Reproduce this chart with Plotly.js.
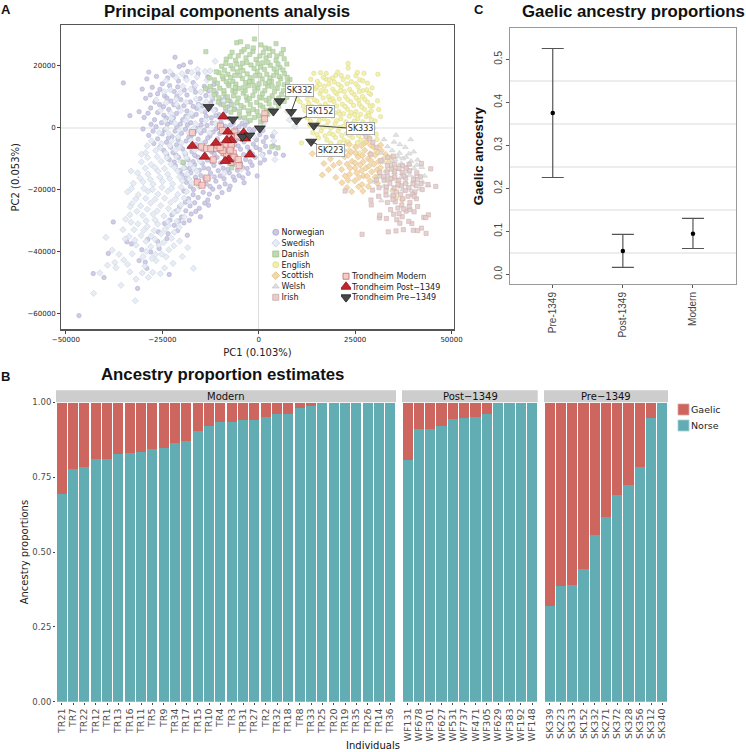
<!DOCTYPE html>
<html><head><meta charset="utf-8">
<script src="https://cdn.plot.ly/plotly-3.0.1.min.js"></script>
<style>html,body{margin:0;padding:0;background:#fff}</style></head>
<body><div id="chart" style="width:746px;height:752px"></div>
<script>
// PCA scores, in thousands of PC units: [PC1, PC2]
const norwegian=[[-35.1,14.5],[-33.4,3.9],[-37.7,-30.5],[-46.6,-60.8],[-42.9,-47.2],[-40.1,-48.5],[-31.4,-52],[-23.2,-47.5],[-39,-40.7],[-34.2,-36.9],[-33,-37.6],[-31,-43],[-29.4,-43.5],[-29,-45.5],[-21.7,22.8],[-17.7,21.2],[-19.5,20.3],[-20.6,19.8],[-24.3,18.2],[-28.5,18],[-29,15.8],[-26.5,16.6],[-22.3,17.1],[-18.4,18.2],[-15.7,17.5],[-13.2,16.5],[-25,14.2],[-27.6,13.1],[-30.2,12.5],[-23.1,13.6],[-20.8,15.1],[-17,14.6],[-14.1,13.4],[-11.6,14],[-26.2,11],[-24.4,10.3],[-21.9,11.7],[-19.3,12.2],[-16.4,11.5],[-13.7,10.4],[-11,11.2],[-8.6,9.8],[-29.3,9.5],[-22.8,8.6],[-20.2,9.1],[-17.7,8.3],[-15.2,9.4],[-12.4,8],[-9.9,7.6],[-7.4,8.6],[-31,5.2],[-28,6.4],[-25.7,7.5],[-23.3,5.9],[-20.9,6.7],[-18.6,5.4],[-16.1,6.3],[-13.9,5.1],[-11.2,5.8],[-8.5,5.4],[-6.2,6.1],[-29.7,3.3],[-27,2.6],[-24.6,4],[-22.1,3.2],[-19.7,2.6],[-17.2,3.7],[-14.8,2.4],[-12.3,3.2],[-9.8,1.9],[-7.5,2.9],[-4.9,3.3],[-2.9,1.8],[-30,-.4],[-26.6,.3],[-23.7,1.1],[-21.2,.2],[-18.5,.9],[-15.8,-.2],[-13.4,.7],[-11,-.4],[-8.6,.4],[-6.1,-.3],[-3.6,.7],[-1.2,-.6],[-28.5,-2.5],[-25,-2],[-22.5,-2.9],[-20,-1.8],[-17.5,-2.7],[-15,-1.7],[-12.6,-2.6],[-10.1,-1.9],[-7.6,-2.8],[-5.2,-1.6],[-2.6,-2.7],[.3,-2.2],[3.6,-2.7],[-27.2,-5.1],[-23.9,-4.7],[-21.3,-5.5],[-18.8,-4.3],[-16.3,-5.4],[-13.8,-4.6],[-11.2,-5.4],[-8.7,-4.4],[-6.3,-5.5],[-3.8,-4.6],[-1.4,-5.3],[1.2,-4.5],[3.8,-5.8],[-24.6,-7.4],[-22.2,-8],[-19.7,-6.9],[-17.3,-7.8],[-14.7,-7],[-12.2,-7.9],[-9.6,-6.9],[-7.2,-7.8],[-4.7,-7],[-2.3,-7.6],[.3,-7.1],[2.8,-7.9],[6.4,-8.9],[4.4,-8.4],[-23.2,-10.3],[-20.8,-9.6],[-18.3,-10.4],[-15.8,-9.5],[-13.3,-10.5],[-10.8,-9.6],[-8.4,-10.5],[-5.9,-9.4],[-3.4,-10.3],[-.9,-9.6],[1.5,-10.4],[-21.6,-12.3],[-19.1,-13],[-16.6,-12],[-14.2,-13],[-11.6,-12.2],[-9.2,-13.1],[-6.7,-12],[-4.2,-12.9],[-1.7,-12.2],[-.4,-15.6],[-20,-15.2],[-17.6,-14.6],[-15,-15.5],[-12.5,-14.7],[-10,-15.6],[-7.6,-14.6],[-5.1,-15.5],[-2.7,-14.8],[-18.7,-17.7],[-16,-17.2],[-13.6,-18.2],[-11.1,-17.3],[-8.7,-18.2],[-6.2,-17],[-3.8,-17.8],[-19.4,-20.5],[-16.9,-20],[-14.4,-20.9],[-11.9,-19.9],[-9.5,-21],[-7.7,-20],[-18.2,-23],[-15.7,-22.6],[-13.2,-23.4],[-10.7,-22.5],[-20.5,-25.6],[-17.8,-25.3],[-15.4,-26.1],[-13,-25.1],[-22.5,-28.2],[-20,-28.9],[-17.5,-27.9],[-15.1,-28.8],[-24.4,-31],[-21.9,-31.6],[-19.4,-30.8],[-26,-33.7],[-23.5,-34.3],[-21,-33.3],[-18.5,-34.8],[-28.8,-36.2],[-26.2,-36.8],[-23.8,-35.9],[-30.3,-39.5],[-28,-40.2],[-25.8,-39.1],
[-23.6,16.1],[-21,13.2],[-18.9,16.3],[-16.7,13],[-25.6,12.4],[-28.1,10.6],[-23.8,9.6],[-21.2,10.2],[-18.6,10.6],[-15.6,7.6],[-13,11.9],[-11.9,9.3],[-10.3,4.2],[-26.9,8.3],[-24.7,6.8],[-22,7.4],[-19.4,7.1],[-17,6.9],[-14.6,7.1],[-12.8,6.2],[-9.6,9],[-7.9,6.8],[-28.7,4.7],[-26.2,4.9],[-23.9,3.1],[-21.3,4.6],[-18.9,3.7],[-16.2,4.3],[-13.6,3.7],[-11.1,3.9],[-8.8,3.4],[-6.6,1.5],[-4.3,1.4],[-27.9,1.1],[-25.2,1.6],[-22.7,1.8],[-20.3,1.2],[-17.6,1.6],[-14.9,.9],[-12.1,1.5],[-10.2,.6],[-7.3,.9],[-5.1,.3],[-2.4,-.5],[-27.4,-1.1],[-24.4,-.7],[-21.7,-1.1],[-19,-.5],[-16.6,-1.3],[-14.1,-.9],[-11.8,-1.4],[-9.2,-.7],[-6.8,-1.6],[-4.4,-2.8],[-1.7,-1.7],[1.1,-.9],[-26.2,-3.6],[-23.4,-3.4],[-20.9,-3.8],[-18.1,-3],[-15.7,-3.7],[-13.2,-3.3],[-10.7,-3.6],[-8.1,-3.2],[-5.7,-3.8],[-3.1,-3.5],[-.6,-3.9],[1.9,-3.1],[-25.6,-6.2],[-22.8,-6.3],[-20.4,-6],[-17.9,-6.3],[-15.3,-6.1],[-12.9,-6.4],[-10.2,-6.1],[-7.9,-6.3],[-5.3,-5.9],[-2.9,-6.3],[-.7,-6.4],[1.8,-6],[-23.8,-8.9],[-21.4,-8.9],[-19,-8.6],[-16.6,-8.9],[-13.9,-8.8],[-11.5,-8.5],[-8.9,-8.4],[-6.4,-8.8],[-3.9,-8.7],[-1.6,-8.5],[1.1,-8.6],[-21.9,-11.1],[-19.5,-11.4],[-17,-11],[-14.6,-11.5],[-12.1,-11.1],[-9.9,-11.4],[-7.2,-11.3],[-4.7,-11.5],[-2.2,-11],[.4,-11.4],[-20.3,-13.8],[-17.9,-13.2],[-15.4,-13.8],[-13,-13.3],[-10.5,-13.9],[-8,-13.5],[-5.5,-13.8],[-3,-13.2],[-18.9,-16.2],[-16.4,-16],[-14,-16.5],[-11.5,-15.9],[-9,-16.5],[-6.6,-15.9],[-4.1,-16.2],[-17.7,-19],[-15.2,-18.9],[-12.6,-19],[-10.2,-19.2],[-7.4,-18.9],[-17,-21.7],[-12.8,-21.5],[-19,-24.1],[-16.6,-24.3],[-14,-24.4],[-21.4,-27],[-18.9,-26.9],[-16.3,-27.1],[-23,-29.9],[-20.7,-30.2],[-18,-30]];
const swedish=[[-39.6,-35.5],[-42.8,-53.6],[-35.7,-51],[-32,-56],[-16.9,-45.5],[-11.3,21.5],[-41.2,-47],[-39.2,-44.5],[-37.3,-43.6],[-35,-42.8],[-34,-44.2],[-37,-45.3],[-31.8,-49],[-30.2,-47],[-27.5,-46.8],[-25.5,-47.2],[-26.6,-43],[-24,-41.8],[-30,-41.7],[-28,-38.5],[-25.9,-38],[-23.3,-39.5],[-31.8,-38],[-33.6,-35.2],[-34.6,-36],[-30.5,-34.9],[-27.9,-35.1],[-25.3,-34.3],[-22.6,-35.8],[-20.5,-36.7],[-18.4,-38.8],[-20.6,-32.2],[-23.4,-31.7],[-26.2,-31.2],[-28.9,-32],[-31.3,-31.1],[-33.4,-28.2],[-34.5,-29.6],[-30.1,-28.4],[-27.4,-28],[-24.6,-28.6],[-22,-27.5],[-19.3,-28.9],[-32.9,-24.6],[-30.6,-25.3],[-28,-24.4],[-25.4,-25.2],[-22.8,-24.2],[-20.2,-25.1],[-18.1,-24],[-34,-20.8],[-31.2,-21.7],[-28.7,-20.6],[-26.1,-21.5],[-23.6,-20.6],[-21,-21.6],[-18.7,-20.7],[-32.5,-18],[-30,-17.5],[-27.4,-18.3],[-24.9,-17.4],[-22.3,-18.2],[-19.8,-17.2],[-17.2,-18.1],[-31.4,-14.6],[-33.1,-14],[-28.7,-15],[-26.1,-14.1],[-23.6,-15],[-21,-14],[-18.5,-15],[-16,-14.1],[-30.4,-11.1],[-27.9,-11.9],[-25.3,-10.9],[-22.8,-11.8],[-20.2,-10.9],[-17.7,-11.8],[-15.2,-10.9],[-29.3,-8.1],[-26.7,-7.4],[-24.1,-8.2],[-21.6,-7.3],[-19.1,-8.2],[-16.6,-7.3],[-30.4,-8.6],[-27.8,-4.3],[-25.2,-5.1],[-22.6,-4.2],[-20.1,-5],[-17.6,-4.1],[-14.8,-5.2],[-25.8,-1.6],[-23.2,-2],[-20.7,-.9],[-18,-1.8],[-15.4,-.8],[-12.7,-1.7],[-24.3,2.2],[-21.7,1.4],[-19,2.3],[-16.4,1.3],[-13.8,2.4],[-11.2,1.4],[-25.5,5.6],[-22.8,4.7],[-20.2,5.5],[-17.5,4.6],[-14.9,5.6],[-26.6,9],[-24,8.1],[-21.4,9.2],[-18.8,8.2],[-16.2,9.3],[-13.6,8.4],[-22.9,12.3],[-20.3,11.4],[-17.6,12.5],[-15,11.6],[-12.3,12.6],[-24,15.3],[-21.4,16.2],[-18.7,15.5],[-16,16.4],[-13.4,15.4],[-23,18.1],[-17.4,17.9],[-13.9,18.2],[-12.6,18.4],[-9,8.6],[-6.5,7.1],[-3.5,2.8],[1.2,1.3],[4.1,-1.6],[3.9,-4.3],[-1.2,-3],[.9,-8.8],[4.2,-10.3],[-4.5,-13.4],[8,2.5],[9.4,.4],[7.5,5.2],[-9,-14.8],[-12.6,-15.8],[-15.5,-19],[-26.8,-41],[-29.5,-44.8],
[-29.2,-36.8],[-26.9,-36.1],[-24.6,-37.1],[-22,-38.2],[-29.1,-40],[-25.2,-40.9],[-27.7,-42.3],[-32.1,-36.4],[-24.3,-32.9],[-27.1,-33.3],[-29.8,-33.2],[-32.3,-33],[-21.9,-33.8],[-33.1,-30.6],[-29.2,-30.1],[-26.9,-29.8],[-23.6,-30.4],[-21.2,-30.3],[-31.6,-27.1],[-28.9,-26.4],[-26.3,-26.9],[-23.4,-26.2],[-20.9,-26.8],[-31.9,-23.1],[-29.3,-22.9],[-26.9,-23.2],[-24.4,-22.8],[-21.6,-23.1],[-19.3,-22.8],[-33,-19.7],[-29.8,-19.6],[-27.5,-20],[-25.1,-19.3],[-22.6,-19.6],[-20.1,-19.3],[-30.8,-16.2],[-28.1,-16.7],[-25.6,-16],[-23.1,-16.5],[-20.5,-15.9],[-18.1,-16.6],[-29.4,-13.1],[-26.9,-12.9],[-24.4,-13.2],[-21.8,-12.8],[-19.4,-13.1],[-16.9,-13],[-28.8,-9.7],[-26.3,-9.4],[-23.8,-9.8],[-21.3,-9.3],[-18.7,-9.7],[-28.9,-5.9],[-25.5,-6.4],[-23,-5.9],[-20.5,-6.3],[-23.9,-.3],[-20.9,-3],[-16.9,-.4],[-22.6,3.1],[-18.4,3.4],[-21.3,7.5],[-15.6,7.2],[-11.6,5.6],[-19.7,13.4],[-24.5,11.6],[-16.4,13.7],[-12.3,10.1],[-19.9,17.5],[-15.9,18.9],[-33.3,-25.6],[-35.2,-33],[-38,-39.6],[-36.2,-41],[-32.8,-40.8],[-33.4,-46.7],[-28.6,-48.4],[-24.4,-45.4],[-22.2,-43.9],[-19.8,-41.7]];
const danish=[[-1.1,28.7],[-5.7,27.5],[-4.7,27.8],[4.5,27.2],[-13.7,24.6],[.6,26.8],[-2.9,26.2],[2.7,25.5],[-6.9,24.4],[-4.4,24.6],[-1.5,24.7],[1.2,24.3],[3.7,24.7],[5.9,23.9],[-8.4,22.2],[-6,21.8],[-3.3,22.6],[-.7,22.1],[1.9,22.6],[4.5,21.8],[6.6,22.3],[-9.6,19.9],[-7.2,20.1],[-4.7,19.5],[-2,20.3],[.5,19.6],[3,20.2],[5.5,19.5],[7.3,20.6],[-10.3,17.8],[-8,17.3],[-5.5,18.1],[-3,17.4],[-.4,18.2],[2.1,17.3],[4.6,18],[6.7,17.5],[-11.5,15.5],[-9.2,15.8],[-6.7,15],[-4.2,15.9],[-1.7,15.1],[.9,15.8],[3.3,15],[5.7,15.8],[8.1,15.6],[-12.6,13.3],[-10.1,12.8],[-7.7,13.6],[-5.2,12.7],[-2.6,13.6],[-.2,12.8],[2.3,13.5],[4.8,12.7],[6.6,13.9],[-11.5,10.7],[-9,11],[-6.5,10.3],[-4,11.2],[-1.5,10.4],[1,11.1],[3.5,10.3],[5.9,10.8],[-10.5,8.3],[-8,8.8],[-5.6,8.1],[-3,8.9],[-.5,8.2],[2,8.9],[4.4,8.1],[6.6,8.5],[-8.6,6.5],[-6.4,5.9],[-3.9,6.6],[-1.4,5.9],[1.1,6.7],[3.3,6],[-5,3.9],[-2.5,4.5],[0,3.8],[2.4,4.4],[-2.2,2.4],[.6,1.9],[-7.9,14.2],[-3.4,14.6],[1.7,14.3],[-.9,16.8],[-6.2,16.9],[3.9,16.9],[-4.2,20.9],[1.1,21],[-6.7,12],[.8,9.6],[-3.2,10],[5,-6.5],[3.4,-6.2],[-19.6,-11.2],[-7,-13],
[-5.3,23.3],[-2.3,23.7],[.3,23.2],[2.8,23.4],[-7.4,23],[-6.7,19],[-4.1,18.5],[-1.2,19.2],[1.5,18.9],[4,19],[6.3,18.7],[-8.9,18.6],[-9.4,16.7],[-7.3,16.2],[-4.9,16.9],[-2.2,16.2],[.3,17],[2.9,16.1],[5.3,16.6],[7.4,16.3],[-10.7,14.4],[-8.4,14.9],[-5.9,14.1],[-2.4,14.9],[.1,14.2],[2.7,14.8],[5.1,14.2],[7.5,14.6],[-11.6,12],[-9,12],[-6.1,11.6],[-3.5,12],[-1,11.9],[1.6,12],[4.1,11.7],[6.4,12],[-10.3,9.7],[-8.1,10],[-5.3,9.6],[-2.4,9.4],[.2,9.9],[2.7,9.5],[5.2,9.6],[7.3,9.8],[-9.1,7.4],[-7,7.5],[-4.6,7.2],[-2.2,7.5],[.4,7.3],[2.7,7.7],[5.2,7],[-7.2,5],[-5,5.4],[-2.7,5.5],[-.4,5.2],[2,5.5],[-3.6,3.2],[-1.1,3.3],[1.5,3.1],[-6.1,13],[-3.9,13],[-1.2,13.6],[3.5,13.4],[-8.5,20.8],[-5.7,20.6],[-3.1,21.1],[-.2,20.8],[2.4,21.1],[5,20.6],[-1.4,25.8],[-3.8,25.3],[1.7,25.8],[4.7,23.2],[-12.8,16.1],[-11,18.1],[6.4,25.3],[8.3,12.5],[-13.8,12.6]];
const english=[[23.2,20.8],[30.9,17.3],[14.3,17.6],[23.2,19.3],[16,17.8],[17.5,17.6],[20,17],[27.3,17.6],[25.2,16.8],[13.5,15.7],[15.2,15],[17.4,15.7],[19.6,14.8],[21.9,15.6],[24,14.9],[26.2,15.5],[28.2,14.4],[12.8,13.2],[14.8,12.6],[17,13.4],[19.2,12.5],[21.4,13.3],[23.6,12.4],[25.8,13.2],[28,12.3],[11.5,10.7],[13.7,10.2],[15.9,11],[18.1,10.1],[20.3,10.9],[22.5,10],[24.7,10.8],[26.9,10.1],[29,10.8],[10.7,8.4],[13,7.9],[15.1,8.6],[17.3,7.7],[19.5,8.5],[21.7,7.6],[23.9,8.4],[26.1,7.6],[28.2,8.3],[12,5.6],[14.2,6.2],[16.4,5.3],[18.6,6],[20.8,5.2],[23,6],[25.2,5.2],[27.4,6],[29.2,5.4],[31.6,3.6],[12.5,3.2],[14.7,3.8],[16.9,3],[19.1,3.7],[21.3,2.9],[23.5,3.7],[25.7,2.9],[27.9,3.6],[30.2,2.2],[13.2,.9],[15.4,1.4],[17.6,.6],[19.8,1.3],[22,.5],[24.2,1.3],[26.4,.5],[28.6,1.2],[14,-1.6],[16.2,-1],[18.4,-1.8],[20.6,-1.1],[22.8,-1.9],[25,-1.1],[27.2,-1.9],[29.4,-1.1],[15.5,-3.3],[17.7,-4],[19.9,-3.2],[22.1,-4],[24.3,-3.2],[26.5,-4],[28.7,-3.2],[30.7,-3.8],[11.1,-4.9],[20.5,-5.9],[22.7,-5.3],[25,-6.1],[27.2,-5.3],[29.4,-6],[30.4,-7.3],[26.1,-8.2],[23.4,-7.4],[17.8,4.3],[21,4.4],[24.9,4.2],[19.1,9.4],[22.2,11.7],[16.2,12],[27,12],[18.2,14.1],[23.1,16.4],[20.5,18],[25.9,8.9],[29.5,7.2],[13.9,5.1],[10.3,12],[8.4,11.4],[10,9.3],[28.4,4.7],
[15.8,14],[18.3,15.6],[20.7,14],[22.9,14.2],[25.2,14.2],[13.6,11.7],[15.1,13.3],[17.4,11.8],[19.8,11.5],[21.2,12],[24.1,11.4],[26.1,11.7],[28.6,11.2],[12.6,9.3],[14.4,9],[16.7,9.6],[18.5,8.9],[20.9,9.3],[23.1,9.1],[25.3,9.6],[27.5,9.2],[11.6,7],[13.8,6.9],[15.9,7.1],[18.1,6.8],[20.2,7],[22.4,6.9],[24.6,7.2],[26.7,6.7],[28.9,7],[12.9,4.4],[15.2,4.9],[17.2,5.1],[19.7,4.8],[22,4.5],[23.9,4.9],[26.4,4.3],[28.6,3.9],[13.4,2.2],[15.7,2.4],[18,2],[20.2,2.3],[22.6,1.9],[24.8,2.2],[27,1.9],[29.2,2.7],[14.3,.1],[16.6,.2],[18.7,-.1],[21,.1],[23.2,-.2],[25.3,.1],[27.5,-.3],[29.8,-.1],[15.1,-2.2],[17.2,-2.6],[19.3,-2.2],[21.5,-2.5],[23.6,-2.5],[25.9,-2.6],[28.1,-2.5],[30.5,-2.1],[18.7,-5],[21,-4.7],[23.2,-4.6],[25.6,-4.8],[27.9,-4.6],[19.2,16.1],[21.4,16.9],[16.8,16.3],[25.6,17.9],[27,15.2],[29.4,12.9],[30.8,8.7],[31.1,5.9]];
const scottish=[[13.9,-8.4],[16.5,-15.3],[16.9,-11.6],[18.6,-10.1],[19.4,-12.2],[18.1,-13.6],[20.9,-11.4],[22.3,-9.4],[21.5,-13.5],[22.1,-7.4],[24,-7.8],[24.2,-10.9],[23.7,-13.1],[22.4,-15.6],[21.6,-17.8],[22.9,-19.4],[25.8,-9.5],[26.3,-12],[25.4,-14.6],[24.9,-17.2],[24.1,-20.7],[27.5,-7.3],[28.4,-10],[27.8,-13],[27.2,-15.6],[26.8,-18.4],[27,-20.5],[29.8,-6.2],[30.2,-8.9],[29.9,-11.8],[29.3,-14.3],[28.9,-17.2],[31.8,-7.4],[32.2,-10.3],[31.6,-12.9],[31.1,-15.6],[30.8,-18],[33.7,-11.1],[33.2,-14],[33,-16.7],[34.7,-13],[35,-16.2],[34.8,-20.4],[35.6,-22.7],[37.2,-23.3],[36.3,-18.7],[26.6,-5.8],[23.5,-5.4],[20,-16.1],
[23.2,-8.9],[25.1,-8.2],[26.9,-9],[28.9,-8.4],[30.9,-8],[22.9,-11.8],[25,-11.4],[27.1,-11],[29,-10.5],[31.1,-10.9],[25,-13],[26.7,-13.9],[28.6,-12.4],[30.7,-13.6],[23.6,-15.1],[26,-16.1],[28.1,-15.7],[30.2,-16],[25.9,-19.1],[28.4,-19],[23.2,-17],[31.6,-5.6],[29,-5.6],[27.8,-4.6],[25.2,-6.4],[32.9,-8.6],[34.5,-9.5]];
const welsh=[[35.6,-2.4],[39.4,-3.8],[32.5,-3.8],[44,-18.7],[35.1,-4.6],[36.6,-5.4],[33.4,-6.1],[38,-6.3],[34.6,-7.4],[36.5,-8.2],[39,-8.4],[40.2,-7.8],[31.8,-8.2],[33.4,-9.5],[35.4,-10.4],[37.4,-10],[39.5,-10.8],[41.2,-10.4],[32.2,-11.2],[34.3,-12.3],[36.3,-12.2],[38.3,-12.9],[40.3,-13.2],[42.3,-12.8],[33,-14],[35.2,-14.6],[37.2,-14.9],[39.2,-15.3],[41.2,-15.2],[43,-15.6],[31.2,-15.9],[33.7,-16.9],[36,-17.2],[38.2,-17.8],[40.2,-17.4],[42.5,-17.6],[30,-17.5],[32.5,-18.9],[35,-19.6],[37.3,-20.1],[39.6,-20.3],[31.8,-23.6],[34.4,-21.9],[36.2,-9.4],[38.2,-9.5],[34.8,-11],[37,-11.6],[39.1,-12],[41,-12.1],[35.9,-13.5],[38.6,-14.2],[40.4,-16.1],[36.9,-16.1],[33.6,-15.6],[41.8,-19.8]];
const irish=[[26.8,-34.5],[44.6,-13.3],[45.9,-19],[33.6,-33.7],[43.4,-34.2],[42.2,-32.5],[41.2,-33.3],[35.6,-33.4],[37.5,-33],[40.1,-33.2],[42.8,-29],[44,-28.2],[43.3,-29.1],[39.7,-31],[38.9,-30.3],[31.3,-29.2],[31.4,-28.3],[33.1,-29.4],[35,-28],[35.8,-29.8],[36.6,-30.9],[37.2,-28.8],[38.2,-27],[39.2,-26.5],[41.2,-25.5],[34.2,-26.5],[36.1,-26],[29.1,-23.4],[29.2,-25],[33.4,-24.2],[35.4,-24],[37.1,-25],[39.2,-24.2],[40.9,-23],[31.1,-22.2],[33,-21.8],[34.9,-22.1],[36.8,-21.6],[38.7,-22.2],[40.5,-20.8],[42.4,-20],[43.9,-18.4],[22.4,-20.5],[29.5,-20.2],[31.2,-19.4],[33.1,-19.2],[35.1,-19.5],[37,-18.8],[38.9,-19.4],[40.8,-18.8],[42.1,-18.1],[30.5,-16.9],[32.5,-17],[34.3,-16.4],[36.3,-17.1],[38.1,-16.3],[40.1,-16.7],[41.9,-15.9],[31.4,-14.5],[33.3,-14.6],[35.2,-14.1],[37.2,-14.5],[39.1,-13.9],[41,-14.6],[42.2,-11.6],[33.4,-12.3],[35.2,-11.8],[37.3,-12.3],[39,-11.8],[31.7,-10.6],[33.5,-9.6],[35,-9.2],[29.6,-4.7],[27.8,-2.8],[28.8,-3.6],[29.1,-8.6],[30.6,-6.4],
[35.3,-15.9],[37.7,-15.6],[34,-18],[36.1,-18.3],[38,-18.1],[40,-18.2],[33,-20.4],[35.7,-20.8],[38,-20.3],[39.9,-21.6],[37.3,-23],[34.8,-23.2],[37.6,-26.3],[40.3,-27.2],[36.4,-27.8],[41.2,-16.8],[32.4,-15.8],[36.4,-13.2],[38.2,-13.1],[34.4,-13.4],[40.3,-22.2],[39,-25.5]];
const modernPts=[[-17.2,-1.6],[1.6,4.5],[1.5,2.9],[-9.9,.5],[-9.4,-.9],[-6.2,-1.4],[-5.5,-2.7],[-7.2,-2.9],[-14.8,-6.2],[-13.5,-6.7],[-12.4,-6.8],[-10.9,-6.7],[-8.7,-5.8],[-7.1,-5.8],[-9.7,-7],[-9,-8.1],[-6.6,-8.2],[-6.4,-9.6],[-5.3,-10.3],[-11.8,-10.4],[-5.1,-12.3],[-7.2,-11.2],[-13.4,-16.3],[-15.9,-17.6],[-14.7,-18.6],[-8.3,-8.9],[-9.3,-7.4],[-10.6,-5.6],[-7.4,-7.3],[-10,-6.4]];
const postPts=[[-9.2,3.6],[-8,-1.3],[-3.9,-1.6],[-3.5,-3.5],[-7.1,-4],[-8.3,-4.1],[-11.1,-4.9],[-17.2,-5.9],[-14,-9.4],[-2.3,-8.7],[-7.8,-10.3],[-8.7,-10.8]];
const prePts=[[-13,6.7],[-6.7,2.7],[5.4,8.6],[3.8,5.3],[8.4,5.1],[9.8,2.4],[.3,-.2],[14.3,.7],[13.6,-4.5],[-4.2,-2.9],[-2.4,-2.5]];
const pcaLabels=[["SK332",8.4,5.1,10.5,12.2],["SK152",9.8,2.4,16.1,5.3],["SK333",14.3,.7,26.4,-.4],["SK223",13.6,-4.5,18.7,-7.3]];

// Panel C
const periods=["Pre-1349","Post-1349","Modern"];
const gaelicMean=[0.375,0.054,0.094];
const gaelicUpper=[0.525,0.093,0.130];
const gaelicLower=[0.225,0.016,0.060];
const boundTicks=[0.05,0.15,0.25,0.35,0.45];

// Panel B
const modernIds=["TR21","TR7","TR22","TR12","TR1","TR13","TR16","TR11","TR5","TR9","TR34","TR17","TR15","TR10","TR4","TR3","TR31","TR27","TR2","TR32","TR18","TR8","TR33","TR25","TR20","TR19","TR35","TR26","TR14","TR36"];
const modernNorse=[.695,.778,.786,.811,.811,.827,.831,.833,.845,.847,.865,.871,.905,.921,.934,.935,.941,.943,.953,.961,.962,.980,.988,1,1,1,1,1,1,1];
const modernGaelic=[.305,.222,.214,.189,.189,.173,.169,.167,.155,.153,.135,.129,.095,.079,.066,.065,.059,.057,.047,.039,.038,.020,.012,0,0,0,0,0,0,0];
const postIds=["WF131","WF678","WF301","WF627","WF531","WF737","WF471","WF305","WF629","WF383","WF192","WF148"];
const postNorse=[.807,.911,.913,.922,.944,.948,.952,.960,1,1,1,1];
const postGaelic=[.193,.089,.087,.078,.056,.052,.048,.040,0,0,0,0];
const preIds=["SK339","SK223","SK333","SK152","SK332","SK271","SK372","SK328","SK356","SK312","SK340"];
const preNorse=[.321,.386,.391,.444,.558,.619,.690,.723,.786,.948,1];
const preGaelic=[.679,.614,.609,.556,.442,.381,.310,.277,.214,.052,0];

const W=746,H=752;
const dx=(a,b)=>[a/W,b/W], dy=(top,bot)=>[1-bot/H,1-top/H];
const DV="DejaVu Sans", LS="Liberation Sans";
const RED="#CC665F", TEAL="#62ADB4";
const thou=a=>a.map(v=>v*1000);
const xs=p=>thou(p.map(d=>d[0])), ys=p=>thou(p.map(d=>d[1]));

const popStyles=[
 ["Norwegian",norwegian,"circle","#CBC8E4","#A9A6CF",4.4],
 ["Swedish",swedish,"diamond","#E6ECF4","#C1CDDD",4.8],
 ["Danish",danish,"square","#BEDAAD","#A2C292",4.2],
 ["English",english,"circle","#F2F0A8","#DBD985",4.4],
 ["Scottish",scottish,"diamond","#F3D8A8","#E0BC84",4.8],
 ["Welsh",welsh,"triangle-up","#E0E0E0","#C8C8C8",5],
 ["Irish",irish,"square","#E5CDCD","#CAACAC",4.2]];
const focalStyles=[
 ["Trondheim Modern",modernPts,"square","#F6CBC6","#BD6A68",6.2],
 ["Trondheim Post\u22121349",postPts,"triangle-up","#C4242B","#8A1B1E",9.5],
 ["Trondheim Pre\u22121349",prePts,"triangle-down","#484848","#222222",9.5]];
const scat=s=>({type:"scatter",mode:"markers",name:s[0],x:xs(s[1]),y:ys(s[1]),xaxis:"x",yaxis:"y",showlegend:false,
  marker:{symbol:s[2],color:s[3],size:s[5],opacity:s[5]>9?1:0.9,line:{color:s[4],width:s[5]>9?0.8:0.6}}});
const data=[...popStyles.map(scat),...focalStyles.map(scat)];

data.push({type:"scatter",mode:"markers",x:periods,y:gaelicMean,xaxis:"x2",yaxis:"y2",showlegend:false,name:"Gaelic ancestry",
  marker:{color:"#000",size:4.5},
  error_y:{type:"data",symmetric:false,array:gaelicUpper.map((v,i)=>v-gaelicMean[i]),arrayminus:gaelicMean.map((v,i)=>v-gaelicLower[i]),color:"#555",thickness:1.2,width:11}});

const bars=(ids,norse,gaelic,ax,ay)=>[
 {type:"bar",name:"Norse",x:ids,y:norse,xaxis:ax,yaxis:ay,marker:{color:TEAL},showlegend:false},
 {type:"bar",name:"Gaelic",x:ids,y:gaelic,xaxis:ax,yaxis:ay,marker:{color:RED},showlegend:false}];
data.push(...bars(modernIds,modernNorse,modernGaelic,"x3","y3"),...bars(postIds,postNorse,postGaelic,"x4","y4"),...bars(preIds,preNorse,preGaelic,"x5","y5"));

// legend keys, on their own small category axes
const keyTrace=(list,ax,ay)=>list.map(s=>({type:"scatter",mode:"markers",name:s[0],x:["key"],y:[s[0]],xaxis:ax,yaxis:ay,showlegend:false,
   marker:{symbol:s[2],color:s[3],size:s[5]>9?10:6,line:{color:s[4],width:0.8}}}));
data.push(...keyTrace(popStyles,"x6","y6"),...keyTrace(focalStyles,"x7","y7"));
data.push(...keyTrace([["Gaelic",0,"square",RED,"#E3A6A1",11],["Norse",0,"square",TEAL,"#A5D0D4",11]],"x8","y8").map(t=>{t.marker.size=11;return t;}));

const hiddenX=(dom,y)=>({domain:dom,anchor:y,visible:false,type:"category",range:[-.5,.5],fixedrange:true});
const keyY=(dom,x,names,size)=>({domain:dom,anchor:x,side:"right",type:"category",categoryorder:"array",categoryarray:names,autorange:false,range:[names.length-.5,-.5],
  showline:false,showgrid:false,zeroline:false,ticks:"",ticklen:0,tickfont:{family:DV,size:size,color:"#222"},fixedrange:true});
const barX=(dom,y,ids)=>({domain:dom,anchor:y,type:"category",categoryorder:"array",categoryarray:ids,range:[-.5,ids.length-.5],tickangle:-90,
  ticks:"outside",ticklen:2,tickcolor:"#444",tickfont:{family:DV,size:9.5,color:"#4d4d4d"},showgrid:false,zeroline:false,showline:false,fixedrange:true});
const barY=(x,vis)=>({domain:dy(402.5,701.7),anchor:x,range:[0,1],showgrid:false,zeroline:false,showline:false,fixedrange:true,
  tickvals:vis?[0,.25,.5,.75,1]:[],ticktext:vis?["0.00","0.25","0.50","0.75","1.00"]:[],ticks:vis?"outside":"",ticklen:2,tickcolor:"#444",
  tickfont:{family:DV,size:8.5,color:"#4d4d4d"}});

const txt=(text,xp,yp,size,family,bold,extra)=>Object.assign({text:bold?"<b>"+text+"</b>":text,xref:"paper",yref:"paper",x:xp/W,y:1-yp/H,showarrow:false,xanchor:"center",yanchor:"middle",
  font:{family,size,color:"#111"}},extra||{});

const annotations=[
 txt("Principal components analysis",227,11,16.8,LS,true),
 txt("Gaelic ancestry proportions",633,11,16.8,LS,true),
 txt("Ancestry proportion estimates",223,374,16.8,LS,true),
 txt("A",5.5,9,13,LS,true),txt("B",5.5,376,13,LS,true),txt("C",479,9,13,LS,true),
 txt("Modern",226,396.5,10,DV,false),txt("Post\u22121349",470,396.5,10,DV,false),txt("Pre\u22121349",606,396.5,10,DV,false),
 txt("Individuals",373,745,10,DV,false),
 ...pcaLabels.map(l=>({text:l[0],xref:"x",yref:"y",axref:"x",ayref:"y",x:l[1]*1000,y:l[2]*1000,ax:l[3]*1000,ay:l[4]*1000,showarrow:true,arrowhead:0,arrowwidth:0.9,arrowcolor:"#333",
   standoff:0,startstandoff:0,bgcolor:"#fff",bordercolor:"#999",borderwidth:0.8,borderpad:1,font:{family:DV,size:8,color:"#333"}}))
];
const strip=(a,b)=>({type:"rect",xref:"paper",yref:"paper",x0:a/W,x1:b/W,y0:1-402.3/H,y1:1-390.3/H,fillcolor:"#CDCDCD",line:{width:0},layer:"below"});

const layout={width:W,height:H,margin:{l:0,r:0,t:0,b:0},paper_bgcolor:"#fff",plot_bgcolor:"#fff",showlegend:false,bargap:0.09,barmode:"stack",hovermode:false,
 font:{family:DV,color:"#333"},
 shapes:[strip(56,396),strip(402,537.7),strip(544,668)],
 annotations,
 xaxis:{domain:dx(61.3,453.7),anchor:"y",range:[-51180,50560],tickvals:[-50000,-25000,0,25000,50000],ticks:"outside",ticklen:3,tickcolor:"#444",tickfont:{family:DV,size:7,color:"#222"},
   title:{text:"PC1 (0.103%)",font:{family:DV,size:10,color:"#222"},standoff:6},showgrid:false,zeroline:true,zerolinecolor:"#DDD",zerolinewidth:1,showline:true,mirror:true,linecolor:"#555",linewidth:1.3,tickformat:"d",layer:"below traces",fixedrange:true},
 yaxis:{domain:dy(25.3,329.3),anchor:"x",range:[-65240,33140],tickvals:[-60000,-40000,-20000,0,20000],ticks:"outside",ticklen:3,tickcolor:"#444",tickfont:{family:DV,size:7,color:"#222"},
   title:{text:"PC2 (0.053%)",font:{family:DV,size:10,color:"#222"},standoff:6},showgrid:false,zeroline:true,zerolinecolor:"#EEE",zerolinewidth:2,showline:true,mirror:true,linecolor:"#555",linewidth:1.3,tickformat:"d",fixedrange:true},
 xaxis2:{domain:dx(509.7,736),anchor:"y2",type:"category",categoryorder:"array",categoryarray:periods,range:[-.614,2.614],tickangle:-90,ticks:"outside",ticklen:3,tickcolor:"#555",
   tickfont:{family:LS,size:10,color:"#444"},showgrid:false,zeroline:false,showline:true,mirror:true,linecolor:"#999",linewidth:1,fixedrange:true},
 yaxis2:{domain:dy(28.3,284),anchor:"x2",range:[-0.0226,0.572],tickvals:[0,.1,.2,.3,.4,.5],ticktext:["0.0","0.1","0.2","0.3","0.4","0.5"],tickangle:-90,ticks:"outside",ticklen:3,tickcolor:"#555",
   tickfont:{family:LS,size:10,color:"#444"},showgrid:false,zeroline:false,showline:true,mirror:true,linecolor:"#999",linewidth:1,fixedrange:true,
   minor:{tickvals:boundTicks,showgrid:true,gridcolor:"#EDEDED",gridwidth:1.6,ticks:""},
   title:{text:"<b>Gaelic ancestry</b>",font:{family:LS,size:13.3,color:"#111"},standoff:6}},
 xaxis3:barX(dx(56,396),"y3",modernIds),
 yaxis3:Object.assign(barY("x3",true),{title:{text:"Ancestry proportions",font:{family:DV,size:10,color:"#222"},standoff:1}}),
 xaxis4:barX(dx(402,537.7),"y4",postIds),yaxis4:barY("x4",false),
 xaxis5:barX(dx(544,668),"y5",preIds),yaxis5:barY("x5",false),
 xaxis6:hiddenX(dx(271,280.5),"y6"),yaxis6:keyY(dy(226.9,302.7),"x6",popStyles.map(s=>s[0]),8),
 xaxis7:hiddenX(dx(341,351),"y7"),yaxis7:keyY(dy(271,302.5),"x7",focalStyles.map(s=>s[0]),8),
 xaxis8:hiddenX(dx(677,690),"y8"),yaxis8:keyY(dy(401.5,433.5),"x8",["Gaelic","Norse"],9.5)
};
Plotly.newPlot("chart",data,layout,{staticPlot:true,displayModeBar:false});
</script></body></html>
